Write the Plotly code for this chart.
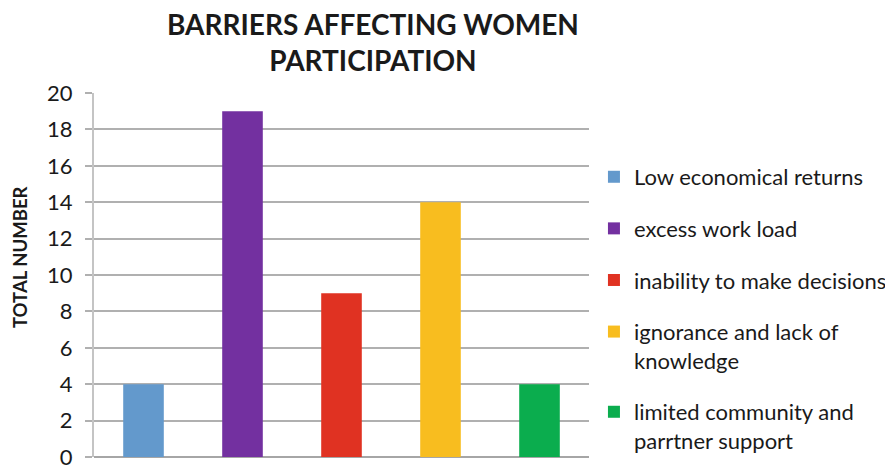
import plotly.graph_objects as go

# Data
barriers = [
    "Low economical returns",
    "excess work load",
    "inability to make decisions",
    "ignorance and lack of<br>knowledge",
    "limited community and<br>parrtner support",
]
totals = [4, 19, 9, 14, 4]
colors = ["#6399CC", "#7330A0", "#E03222", "#F8BD1F", "#0BAD4E"]

FONT = "Lato, 'Open Sans', sans-serif"

fig = go.Figure()
for i, (name, val, col) in enumerate(zip(barriers, totals, colors)):
    fig.add_trace(go.Bar(
        x=[f"c{i}"],
        y=[val],
        name=name,
        legendgroup=f"g{i}",
        marker=dict(color=col, line=dict(width=0)),
        width=0.41,
    ))

# the page body adds an 8px offset, so margins are shifted to compensate
fig.update_layout(
    width=893,
    height=466,
    margin=dict(l=86, r=312, t=85, b=17, autoexpand=False),
    plot_bgcolor="white",
    paper_bgcolor="white",
    barmode="overlay",
    font=dict(family=FONT, size=18, color="#1a1a1a"),
    legend=dict(
        x=1.010, xanchor="left",
        y=0.827, yanchor="top",
        traceorder="grouped",
        tracegroupgap=20,
        valign="top",
        font=dict(family=FONT, size=22, color="#1a1a1a"),
    ),
    annotations=[
        dict(
            text="<b>BARRIERS AFFECTING WOMEN<br>PARTICIPATION</b>",
            xref="paper", yref="paper",
            x=0.5636, y=1.140,
            xanchor="center", yanchor="middle",
            showarrow=False,
            font=dict(family=FONT, size=28, color="#1a1a1a"),
        ),
        dict(
            text="<b>TOTAL NUMBER</b>",
            textangle=-90,
            xref="paper", yref="paper",
            x=-0.148, y=0.5486,
            xanchor="center", yanchor="middle",
            showarrow=False,
            font=dict(family=FONT, size=18.5, color="#1a1a1a"),
        ),
    ],
)

fig.update_xaxes(
    showticklabels=False,
    showgrid=False,
    zeroline=False,
    showline=False,
    automargin=False,
)
fig.update_yaxes(
    range=[0, 20],
    dtick=2,
    automargin=False,
    showgrid=True,
    gridcolor="#B0B0B0",
    gridwidth=2,
    zeroline=True,
    zerolinecolor="#A6A6A6",
    zerolinewidth=2,
    showline=True,
    linecolor="#C4C4C4",
    linewidth=2,
    ticks="outside",
    ticklen=7,
    tickwidth=2,
    tickcolor="#B0B0B0",
    ticklabelstandoff=8,
    tickfont=dict(family=FONT, size=22, color="#1a1a1a"),
)

fig.write_html("out.html")
